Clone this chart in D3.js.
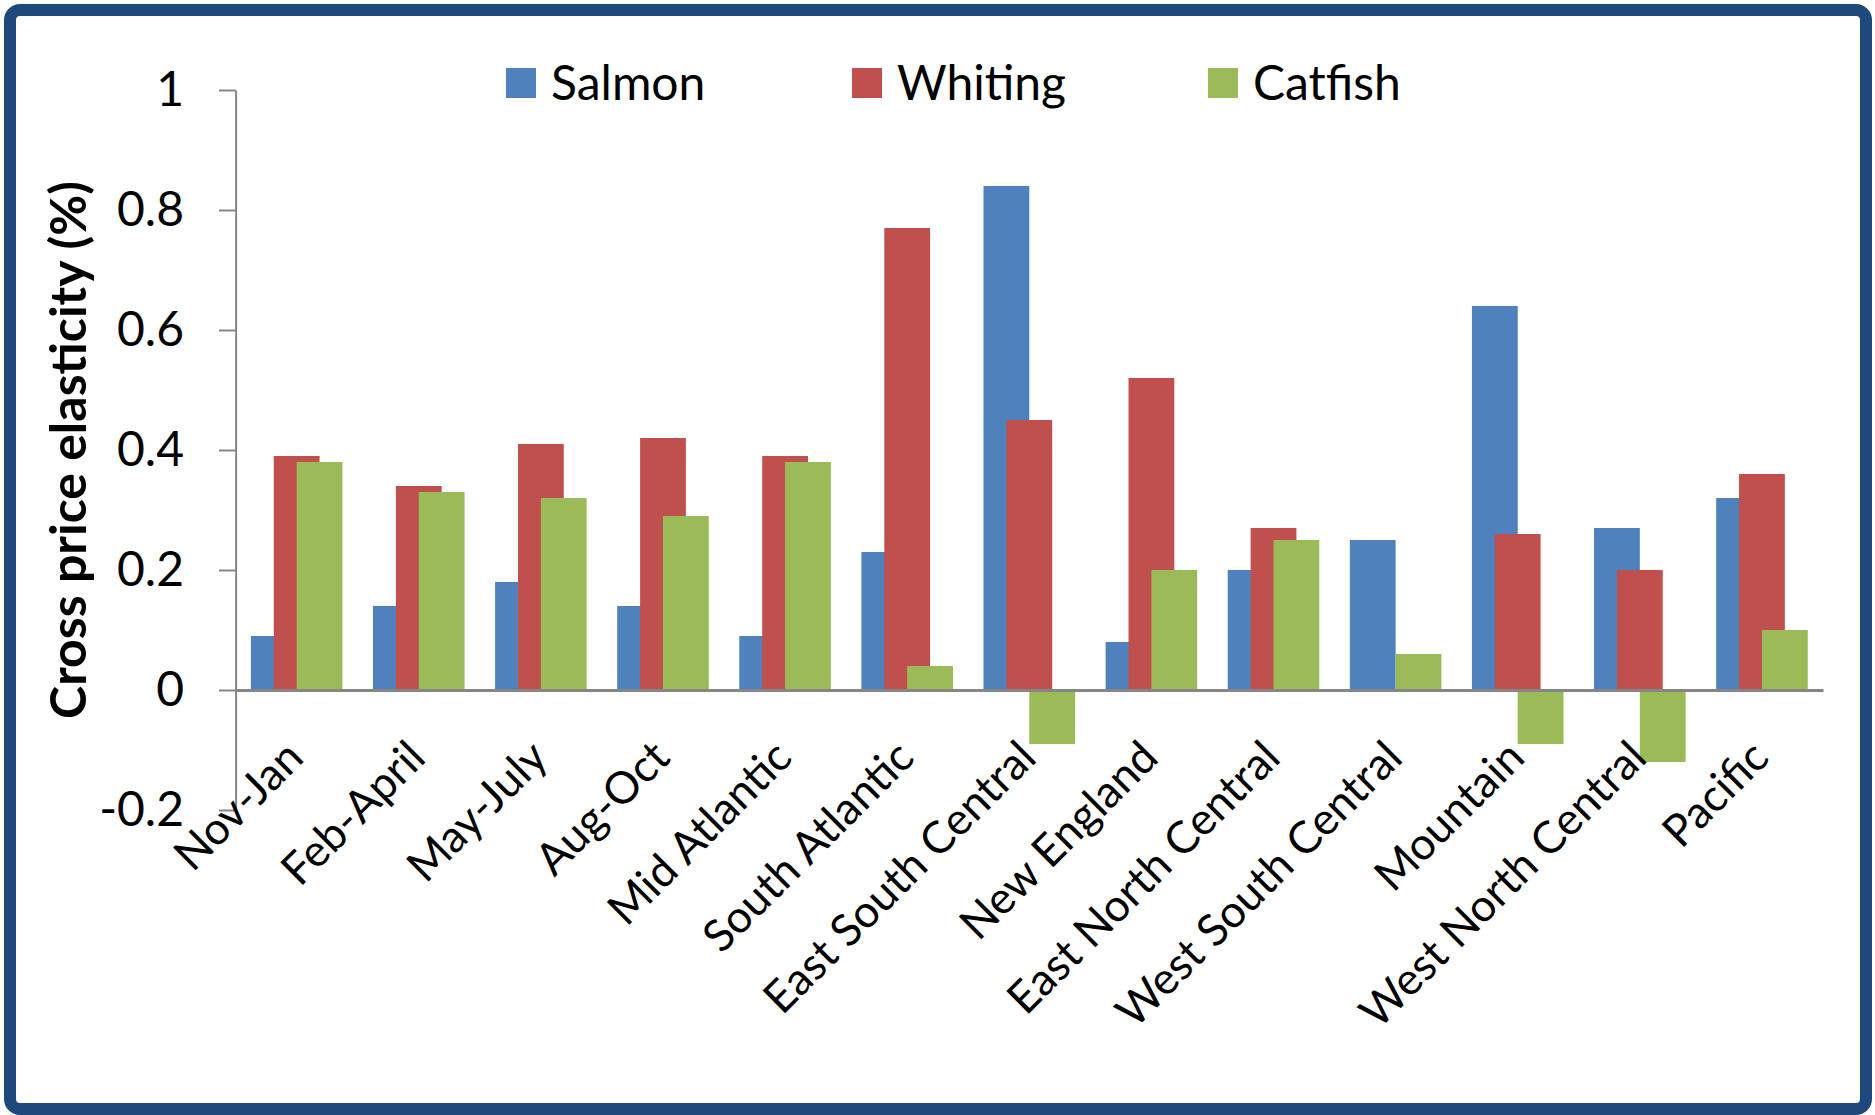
<!DOCTYPE html>
<html>
<head>
<meta charset="utf-8">
<script src="https://cdn.jsdelivr.net/npm/d3@7"></script>
<style>
  html, body { margin: 0; padding: 0; background: #ffffff; }
  svg { display: block; }
  text { font-family: Lato, "Noto Sans", sans-serif; fill: #000; }
</style>
</head>
<body>
<svg id="chart" width="1875" height="1115"></svg>
<script>
// Cross price elasticity by season and region
const categories = [
  "Nov-Jan", "Feb-April", "May-July", "Aug-Oct", "Mid Atlantic",
  "South Atlantic", "East South Central", "New England", "East North Central",
  "West South Central", "Mountain", "West North Central", "Pacific"
];
const seriesNames = ["Salmon", "Whiting", "Catfish"];
const salmon  = [0.09, 0.14, 0.18, 0.14, 0.09, 0.23, 0.84, 0.08, 0.20, 0.25, 0.64, 0.27, 0.32];
const whiting = [0.39, 0.34, 0.41, 0.42, 0.39, 0.77, 0.45, 0.52, 0.27, 0.00, 0.26, 0.20, 0.36];
const catfish = [0.38, 0.33, 0.32, 0.29, 0.38, 0.04, -0.09, 0.20, 0.25, 0.06, -0.09, -0.12, 0.10];
const yTicks = [-0.2, 0, 0.2, 0.4, 0.6, 0.8, 1];
const yTitle = "Cross price elasticity (%)";

const colors = ["#4F81BD", "#C0504D", "#9BBB59"];
const seriesValues = [salmon, whiting, catfish];

const svg = d3.select("#chart");
const W = 1875, H = 1115;

// frame
svg.append("rect")
  .attr("x", 10).attr("y", 10)
  .attr("width", W - 19).attr("height", H - 16)
  .attr("rx", 10).attr("ry", 10)
  .attr("fill", "#ffffff")
  .attr("stroke", "#1F497D")
  .attr("stroke-width", 12);

const plot = { left: 235.6, right: 1823, top: 90, bottom: 810 };

const x0 = d3.scaleBand()
  .domain(categories)
  .range([plot.left, plot.right])
  .paddingInner(0.25)
  .paddingOuter(0.125);

// bars overlap by half their width inside each group
const barW = x0.bandwidth() / 2;
const xs = d3.scaleLinear().domain([0, seriesNames.length - 1]).range([0, x0.bandwidth() - barW]);

const y = d3.scaleLinear().domain([-0.2, 1]).range([plot.bottom, plot.top]);

// bars
seriesValues.forEach((vals, si) => {
  svg.append("g")
    .selectAll("rect")
    .data(vals.map((v, i) => ({ cat: categories[i], v })))
    .join("rect")
    .attr("x", d => x0(d.cat) + xs(si))
    .attr("width", barW)
    .attr("y", d => y(Math.max(0, d.v)))
    .attr("height", d => Math.abs(y(d.v) - y(0)))
    .attr("fill", colors[si]);
});

// y axis
const yAxis = d3.axisLeft(y)
  .tickValues(yTicks)
  .tickFormat(d => String(+d.toFixed(1)))
  .tickSize(16.6)
  .tickSizeOuter(0)
  .tickPadding(35);

const gy = svg.append("g")
  .attr("transform", `translate(${plot.left},0)`)
  .call(yAxis);
gy.select(".domain").attr("stroke", "#868686").attr("stroke-width", 2);
gy.selectAll(".tick line").attr("stroke", "#868686").attr("stroke-width", 2);
gy.selectAll(".tick text")
  .attr("font-family", "Lato, 'Noto Sans', sans-serif")
  .attr("font-size", 48)
  .attr("fill", "#000");

// x axis at zero
const xAxis = d3.axisBottom(x0).tickSize(0).tickSizeOuter(0);
const gx = svg.append("g")
  .attr("transform", `translate(0,${y(0)})`)
  .call(xAxis);
gx.select(".domain").attr("stroke", "#868686").attr("stroke-width", 3);
gx.selectAll(".tick text")
  .attr("font-family", "Lato, 'Noto Sans', sans-serif")
  .attr("font-size", 44.5)
  .attr("fill", "#000")
  .attr("text-anchor", "end")
  .attr("x", 0).attr("y", 0)
  .attr("dy", "0.35em")
  .attr("transform", "translate(-2,59) rotate(-45)");

// y axis title
svg.append("text")
  .attr("transform", `translate(68,${(plot.top + plot.bottom) / 2}) rotate(-90)`)
  .attr("text-anchor", "middle")
  .attr("dy", "0.35em")
  .attr("font-size", 50)
  .attr("font-weight", "bold")
  .text(yTitle);

// legend
const legendX = [506, 852, 1208];
const legend = svg.append("g");
seriesNames.forEach((name, i) => {
  const lx = legendX[i];
  legend.append("rect")
    .attr("x", lx).attr("y", 68)
    .attr("width", 30).attr("height", 30)
    .attr("fill", colors[i]);
  legend.append("text")
    .attr("x", lx + 45).attr("y", 83)
    .attr("dy", "0.35em")
    .attr("font-size", 48)
    .text(name);
});
</script>
</body>
</html>
